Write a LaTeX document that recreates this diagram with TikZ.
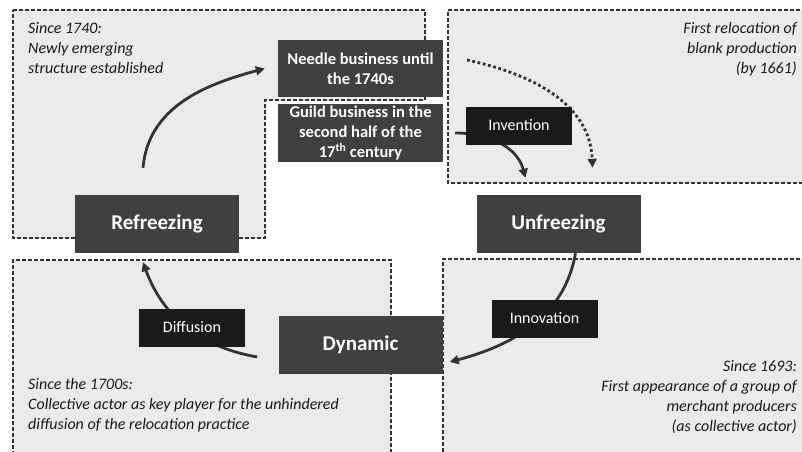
\documentclass[tikz,border=0pt]{standalone}
\usepackage{fontspec}
\setmainfont{Carlito}
\usetikzlibrary{arrows.meta, positioning}

\definecolor{panelgrey}{HTML}{EBEBEB}
\definecolor{boxgrey}{HTML}{404040}
\definecolor{labelblack}{HTML}{1A1A1A}
\definecolor{arrowgrey}{HTML}{333333}

\begin{document}
\begin{tikzpicture}[
    x=1pt, y=-1pt,
    panel/.style={draw=black!80, dash pattern=on 4pt off 2pt, line width=1.2pt},
    stage/.style={fill=boxgrey, text=white, minimum width=164pt, minimum height=58pt,
      font=\fontsize{21}{24}\selectfont\bfseries, inner sep=0pt},
    period/.style={fill=boxgrey, text=white, minimum width=165pt, minimum height=57pt,
      font=\fontsize{16.5}{20}\selectfont\bfseries, align=center, inner sep=0pt},
    phase/.style={fill=labelblack, text=white, minimum width=106pt, minimum height=38pt,
      font=\fontsize{16}{18}\selectfont, inner sep=0pt},
    note/.style={font=\fontsize{16}{20}\selectfont\itshape, text=black!90, inner sep=0pt},
    flow/.style={-{Triangle[length=9pt,width=9pt]}, line width=2.8pt, draw=arrowgrey}
]
  \useasboundingbox (0,0) rectangle (802,451);

  % Panels
  \fill[panelgrey] (13,10) -- (425,10) -- (425,100) -- (265,100) -- (265,238) -- (13,238) -- cycle;
  \fill[panelgrey] (448,10) rectangle (806,183);
  \fill[panelgrey] (13,260) rectangle (391,455);
  \fill[panelgrey] (443,259) rectangle (806,455);
  \draw[panel] (13,10) -- (425,10) -- (425,100) -- (265,100) -- (265,238) -- (13,238) -- cycle;
  \draw[panel] (806,10) -- (448,10) -- (448,183) -- (806,183);
  \draw[panel] (13,455) -- (13,260) -- (391,260) -- (391,455);
  \draw[panel] (806,259) -- (443,259) -- (443,455);

  % Stages
  \node[stage] (refreeze) at (157,224) {Refreezing};
  \node[stage] (unfreeze) at (558.5,224) {Unfreezing};
  \node[stage] (dynamic) at (360.5,345) {Dynamic};

  % Periods
  \node[period] (needle) at (360.5,68.5) {Needle business until\\the 1740s};
  \node[period, minimum height=58pt] (guild) at (360.5,133)
    {Guild business in the\\second half of the\\17\textsuperscript{th} century};

  % Free ends
  \coordinate (dotstart) at (467,60);
  \coordinate (dotend) at ([xshift=34pt,yshift=27pt]unfreeze.north);

  % Arrows
  \draw[flow] ([xshift=-14pt,yshift=27pt]refreeze.north) to[out=85, in=195] ([xshift=-13pt]needle.west);
  \draw[flow] ([xshift=12pt]guild.east) to[out=0, in=105] ([xshift=-33pt,yshift=17pt]unfreeze.north);
  \draw[flow, dash pattern=on 2.8pt off 2.6pt] (dotstart) to[out=-12, in=92] (dotend);
  \draw[flow] ([xshift=17pt]unfreeze.south) to[out=-100, in=15] ([xshift=7pt,yshift=-17pt]dynamic.east);
  \draw[flow] ([xshift=-21pt,yshift=-12pt]dynamic.west) to[out=170, in=-70] ([xshift=-14pt,yshift=-9pt]refreeze.south);

  % Phases
  \node[phase] (invention) at (519,125.5) {Invention};
  \node[phase] (diffusion) at (192,327.5) {Diffusion};
  \node[phase] (innovation) at (544.5,318.5) {Innovation};

  % Notes
  \node[note, anchor=north west, align=left] (n1740) at (28,22)
    {Since 1740:\\Newly emerging\\structure established};
  \node[note, anchor=north east, align=right] (n1661) at (797,22)
    {First relocation of\\blank production\\(by 1661)};
  \node[note, anchor=north west, align=left] (n1700) at (28,378)
    {Since the 1700s:\\Collective actor as key player for the unhindered\\diffusion of the relocation practice};
  \node[note, anchor=north east, align=right] (n1693) at (797,360)
    {Since 1693:\\First appearance of a group of\\merchant producers\\(as collective actor)};
\end{tikzpicture}
\end{document}
